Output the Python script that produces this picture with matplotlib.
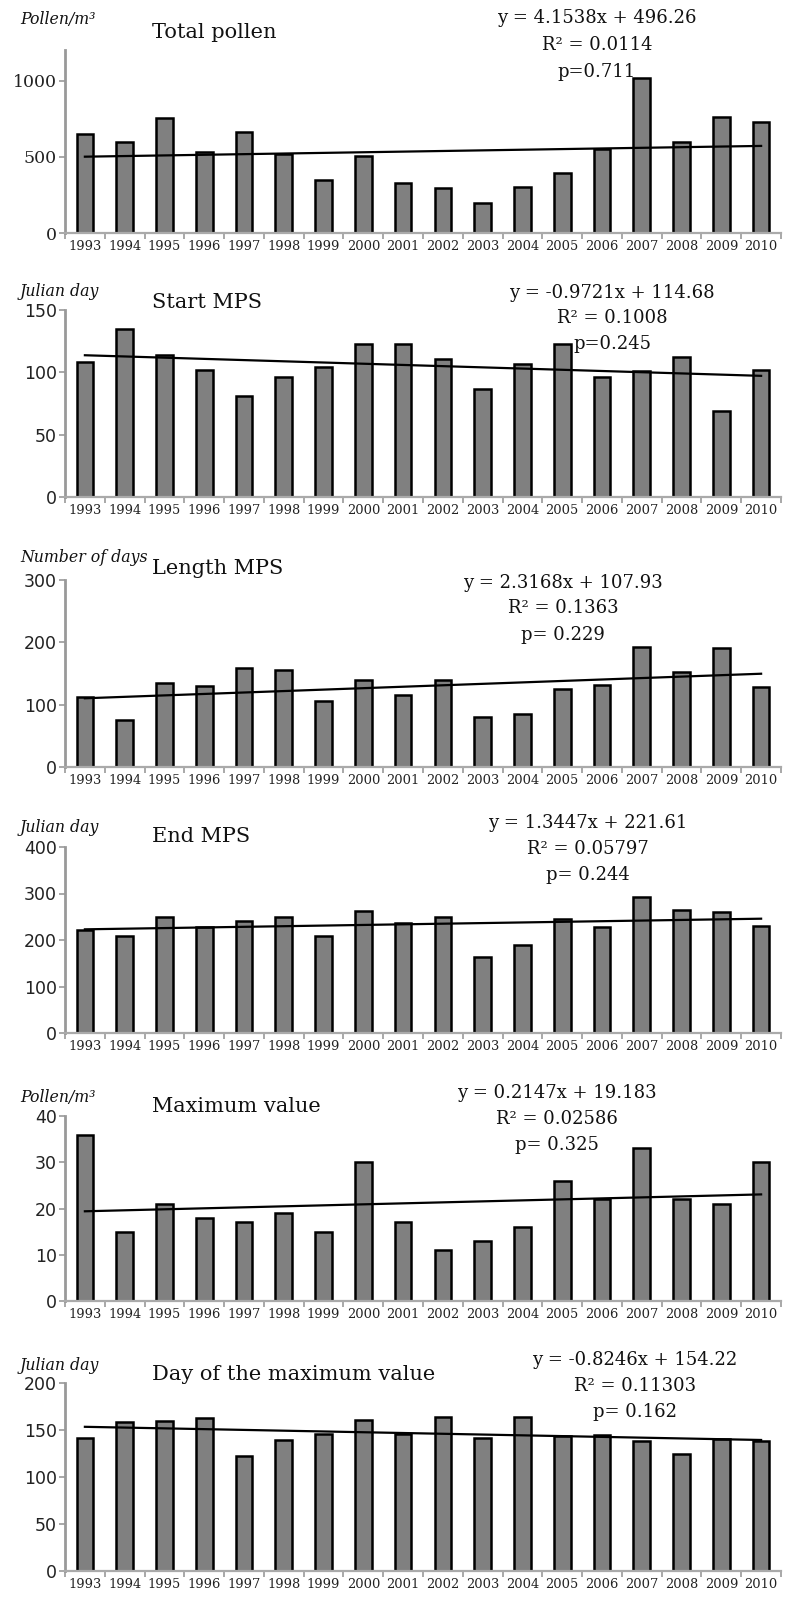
import matplotlib
matplotlib.use("Agg")
import matplotlib.pyplot as plt
import numpy as np

W, H = 790, 1598

years = [str(y) for y in range(1993, 2011)]

total_pollen = [652, 598, 754, 528, 661, 517, 350, 506, 328, 293, 196, 304, 396, 554, 1015, 598, 761, 728]
start_mps = [108, 135, 114, 102, 81, 96, 104, 123, 123, 111, 87, 107, 123, 96, 101, 112, 69, 102]
length_mps = [113, 76, 134, 130, 159, 155, 106, 140, 115, 140, 80, 85, 125, 132, 193, 153, 191, 128]
end_mps = [222, 209, 250, 229, 240, 250, 209, 263, 237, 250, 163, 190, 245, 228, 293, 265, 260, 230]
max_value = [36, 15, 21, 18, 17, 19, 15, 30, 17, 11, 13, 16, 26, 22, 33, 22, 21, 30]
day_max = [141, 159, 160, 163, 122, 139, 146, 161, 146, 164, 142, 164, 144, 145, 138, 125, 140, 138]

slopes = [4.1538, -0.9721, 2.3168, 1.3447, 0.2147, -0.8246]
intercepts = [496.26, 114.68, 107.93, 221.61, 19.183, 154.22]
equations = [
    ["y = 4.1538x + 496.26", "R² = 0.0114", "p=0.711"],
    ["y = -0.9721x + 114.68", "R² = 0.1008", "p=0.245"],
    ["y = 2.3168x + 107.93", "R² = 0.1363", "p= 0.229"],
    ["y = 1.3447x + 221.61", "R² = 0.05797", "p= 0.244"],
    ["y = 0.2147x + 19.183", "R² = 0.02586", "p= 0.325"],
    ["y = -0.8246x + 154.22", "R² = 0.11303", "p= 0.162"],
]
titles = ["Total pollen", "Start MPS", "Length MPS", "End MPS", "Maximum value",
          "Day of the maximum value"]
units = ["Pollen/m³", "Julian day", "Number of days", "Julian day", "Pollen/m³", "Julian day"]
ymax = [1200, 150, 300, 400, 40, 200]
ystep = [500, 50, 100, 100, 10, 50]
series = [total_pollen, start_mps, length_mps, end_mps, max_value, day_max]

# layout in pixels: (axis top, axis bottom)
axis_px = [(50, 233), (310, 497), (580, 767), (847, 1033), (1116, 1301), (1383, 1571)]
unit_y = [20, 292, 558, 827, 1097, 1365]
title_y = [33, 302, 568, 837, 1107, 1375]
eq_x = [597, 612, 563, 588, 557, 635]
eq_y = [[18, 45, 72], [293, 318, 344], [583, 608, 635], [823, 849, 875],
        [1093, 1119, 1145], [1360, 1386, 1412]]

x_left, x_right = 65, 781
SERIF = "DejaVu Serif"
SANS = "DejaVu Sans"

fig = plt.figure(figsize=(W / 100, H / 100), dpi=100)


def fx(px):
    return px / W


def fy(py):
    return 1 - py / H


x = np.arange(len(years))
for i in range(6):
    top, bot = axis_px[i]
    ax = fig.add_axes([fx(x_left), fy(bot), fx(x_right - x_left), (bot - top) / H])
    ax.bar(x, series[i], width=0.42, color="#808080", edgecolor="black", linewidth=1.8,
           zorder=2)
    trend = [slopes[i] * (k + 1) + intercepts[i] for k in x]
    ax.plot(x, trend, color="black", linewidth=1.6, zorder=3)

    ax.set_xlim(-0.5, len(years) - 0.5)
    ax.set_ylim(0, ymax[i])
    ax.set_yticks(np.arange(0, ymax[i] + 1, ystep[i]))
    ax.set_xticks(np.arange(-0.5, len(years)), labels=[])
    ax.set_xticks(x, labels=years, minor=True)
    ax.tick_params(axis="x", which="major", direction="out", length=4, width=1.2,
                   color="#999999")
    ax.tick_params(axis="x", which="minor", length=0, pad=5)
    ax.tick_params(axis="y", direction="out", length=4, width=1.2, color="#999999",
                   pad=2)
    for lab in ax.get_xticklabels(minor=True):
        lab.set_fontfamily(SERIF)
        lab.set_fontsize(9.4)
        lab.set_color("#222222")
    for lab in ax.get_yticklabels():
        lab.set_fontfamily(SERIF if i == 0 else SANS)
        lab.set_fontsize(12.5)
        lab.set_color("#222222")

    for s in ["top", "right"]:
        ax.spines[s].set_visible(False)
    ax.spines["left"].set_color("#999999")
    ax.spines["left"].set_linewidth(2)
    ax.spines["bottom"].set_color("#aaaaaa")
    ax.spines["bottom"].set_linewidth(1.6)
    ax.set_facecolor("white")

    fig.text(fx(20), fy(unit_y[i]), units[i], family=SERIF, style="italic",
             fontsize=11.3, ha="left", va="center", color="#111111")
    fig.text(fx(152), fy(title_y[i]), titles[i], family=SERIF, fontsize=15,
             ha="left", va="center", color="#111111")
    for line, ly in zip(equations[i], eq_y[i]):
        fig.text(fx(eq_x[i]), fy(ly), line, family=SERIF, fontsize=13,
                 ha="center", va="center", color="#111111")

fig.savefig("out.png", dpi=100, facecolor="white")
